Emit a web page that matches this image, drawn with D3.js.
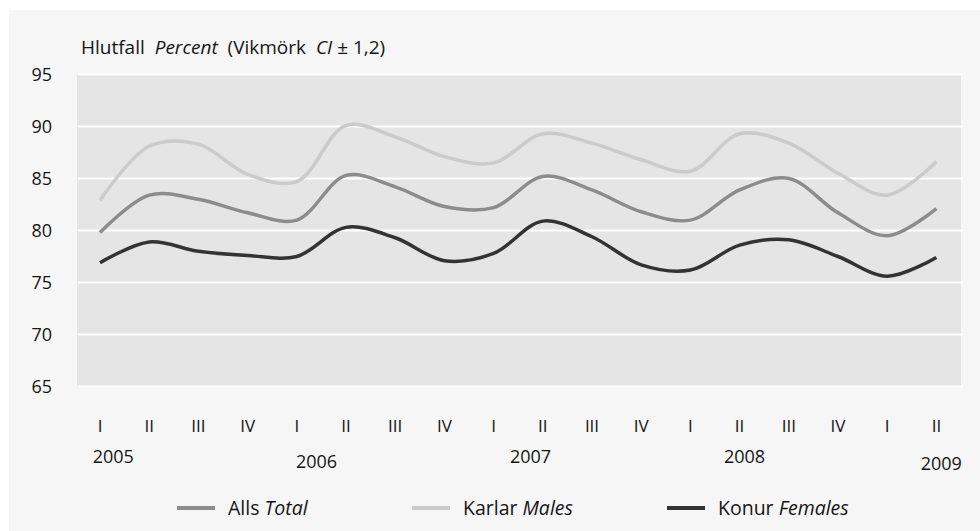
<!DOCTYPE html>
<html>
<head>
<meta charset="utf-8">
<script src="https://cdn.jsdelivr.net/npm/d3@7"></script>
<style>
  body { margin: 0; background: #fff; }
  text { font-family: "Open Sans", "Noto Sans", sans-serif; fill: #151515; white-space: pre; }
</style>
</head>
<body>
<div id="chart"></div>
<script>
const quarters = ['I','II','III','IV','I','II','III','IV','I','II','III','IV','I','II','III','IV','I','II'];
const years = ['2005','2006','2007','2008','2009'];
const yTicks = [65, 70, 75, 80, 85, 90, 95];

const total   = [79.8, 83.4, 83.0, 81.7, 81.0, 85.3, 84.2, 82.3, 82.2, 85.2, 83.9, 81.8, 81.0, 83.9, 85.0, 81.7, 79.5, 82.1];
const males   = [82.9, 88.1, 88.3, 85.4, 84.7, 90.1, 89.0, 87.1, 86.5, 89.3, 88.4, 86.8, 85.7, 89.3, 88.4, 85.5, 83.4, 86.6];
const females = [76.9, 78.9, 78.0, 77.6, 77.5, 80.3, 79.3, 77.1, 77.8, 80.9, 79.4, 76.7, 76.2, 78.6, 79.1, 77.5, 75.6, 77.4];

const width = 980, height = 531;

// where each year label sits, in quarter units, and its small vertical shift
const yearPos = [0.27, 4.4, 8.75, 13.1, 17.1];
const yearDy = [0, 5, 0, 0, 7];

let series = [
  { name: 'Alls', en: 'Total', values: total, colour: '#8c8c8c' },
  { name: 'Karlar', en: 'Males', values: males, colour: '#cbcbcb' },
  { name: 'Konur', en: 'Females', values: females, colour: '#333333' }
];

let svg = d3.select('#chart')
  .append('svg')
    .attr('width', width)
    .attr('height', height);

// outer panel
svg.append('rect')
  .attr('x', 9).attr('y', 10)
  .attr('width', width - 9).attr('height', height - 10)
  .attr('fill', '#f6f6f6');

let plot = { left: 77, right: 961, top: 74.5, bottom: 386.5 };

let x = d3.scaleLinear()
  .domain([0, quarters.length - 1])
  .range([100, 936.4]);

let y = d3.scaleLinear()
  .domain([65, 95])
  .range([plot.bottom, plot.top]);

svg.append('rect')
  .attr('x', plot.left).attr('y', plot.top)
  .attr('width', plot.right - plot.left).attr('height', plot.bottom - plot.top)
  .attr('fill', '#e5e5e5');

// gridlines
svg.selectAll('.grid')
  .data(yTicks)
  .enter()
  .append('line')
    .attr('class', 'grid')
    .attr('x1', plot.left + 1)
    .attr('x2', plot.right + 2)
    .attr('y1', d => y(d))
    .attr('y2', d => y(d))
    .attr('stroke', '#ffffff')
    .attr('stroke-width', 2);

// y labels
svg.selectAll('.ylab')
  .data(yTicks)
  .enter()
  .append('text')
    .attr('class', 'ylab')
    .attr('x', 52)
    .attr('y', d => y(d))
    .attr('dy', '0.36em')
    .style('text-anchor', 'end')
    .style('font-size', '18px')
    .text(d => d);

// axis title
let title = svg.append('text')
  .attr('x', 81)
  .attr('y', 54)
  .style('font-size', '19px');
title.append('tspan').text('Hlutfall  ');
title.append('tspan').style('font-style', 'italic').text('Percent');
title.append('tspan').text('  (Vikmörk  ');
title.append('tspan').style('font-style', 'italic').text('CI');
title.append('tspan').text(' ± 1,2)');

// quarter labels
svg.selectAll('.qlab')
  .data(quarters)
  .enter()
  .append('text')
    .attr('class', 'qlab')
    .attr('x', (d, i) => x(i))
    .attr('y', 432)
    .style('text-anchor', 'middle')
    .style('font-size', '17px')
    .text(d => d);

// year labels
svg.selectAll('.yearlab')
  .data(years)
  .enter()
  .append('text')
    .attr('class', 'yearlab')
    .attr('x', (d, i) => x(yearPos[i]))
    .attr('y', (d, i) => 463 + yearDy[i])
    .style('text-anchor', 'middle')
    .style('font-size', '18px')
    .text(d => d);

// lines
let lineGen = d3.line()
  .x((d, i) => x(i))
  .y(d => y(d))
  .curve(d3.curveCatmullRom.alpha(0.5));

svg.selectAll('.series')
  .data(series)
  .enter()
  .append('path')
    .attr('class', 'series')
    .attr('d', d => lineGen(d.values))
    .attr('fill', 'none')
    .attr('stroke', d => d.colour)
    .attr('stroke-width', 3.5)
    .attr('stroke-linejoin', 'round');

// legend
let legendX = [177, 412, 667];
let legend = svg.selectAll('.legend')
  .data(series)
  .enter()
  .append('g')
    .attr('class', 'legend')
    .attr('transform', (d, i) => `translate(${legendX[i]},508)`);

legend.append('line')
  .attr('x1', 0).attr('x2', 38)
  .attr('stroke', d => d.colour)
  .attr('stroke-width', 4);

let lt = legend.append('text')
  .attr('x', 51)
  .attr('dy', '0.36em')
  .style('font-size', '19.5px');
lt.append('tspan').text(d => d.name + ' ');
lt.append('tspan').style('font-style', 'italic').text(d => d.en);
</script>
</body>
</html>
